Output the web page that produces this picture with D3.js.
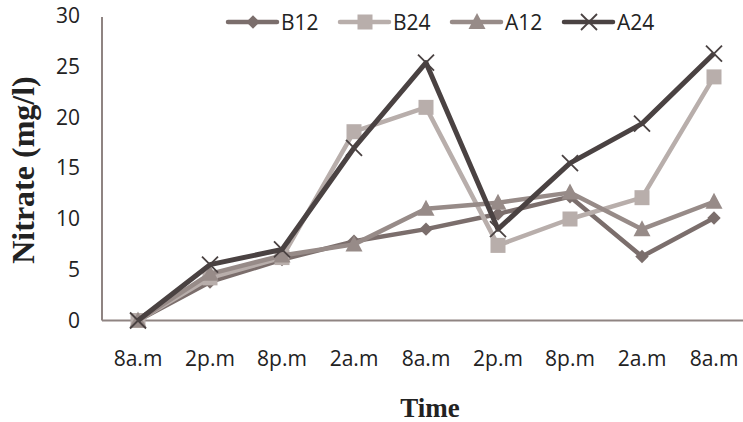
<!DOCTYPE html>
<html>
<head>
<meta charset="utf-8">
<script src="https://cdn.jsdelivr.net/npm/d3@7/dist/d3.min.js"></script>
<style>
  html, body { margin: 0; padding: 0; background: #fff; }
  svg { display: block; }
</style>
</head>
<body>
<svg id="chart" width="743" height="422"></svg>
<script>
// Sampling times along the x axis
const categories = ["8a.m", "2p.m", "8p.m", "2a.m", "8a.m", "2p.m", "8p.m", "2a.m", "8a.m"];

// Nitrate concentration (mg/l) per series
const B12 = [0, 3.8, 6.0, 7.8, 9.0, 10.5, 12.2, 6.3, 10.1];
const B24 = [0, 4.2, 6.2, 18.6, 21.0, 7.4, 10.0, 12.1, 24.0];
const A12 = [0, 4.6, 6.4, 7.5, 11.0, 11.6, 12.6, 9.0, 11.7];
const A24 = [0, 5.5, 7.0, 17.0, 25.4, 9.0, 15.5, 19.4, 26.3];

const yTicks = [0, 5, 10, 15, 20, 25, 30];

const series = [
  { name: "B12", values: B12, color: "#7b6e6c", marker: "diamond" },
  { name: "B24", values: B24, color: "#b8aeab", marker: "square" },
  { name: "A12", values: A12, color: "#978b88", marker: "triangle" },
  { name: "A24", values: A24, color: "#4a4242", marker: "cross" }
];

const svg = d3.select("#chart");
const axisColor = "#8f8482";
const textColor = "#222";
const labelFont = "'Open Sans', sans-serif";
const labelSize = 21;

const x = d3.scaleBand()
  .domain(d3.range(categories.length))
  .range([102, 750]);
const y = d3.scaleLinear().domain([0, 30]).range([320.5, 16]);
const cx = i => x(i) + x.bandwidth() / 2;

// Axes
const yAxis = d3.axisLeft(y).tickValues(yTicks).tickSize(0).tickPadding(22);
const gy = svg.append("g").attr("transform", "translate(102,0)").call(yAxis);
gy.select(".domain").attr("stroke", axisColor).attr("stroke-width", 2).attr("d", `M0,${y(30) + 1}V${y(0)}`);
gy.selectAll("text")
  .attr("font-family", labelFont)
  .attr("font-size", labelSize)
  .attr("fill", textColor);

const xAxis = d3.axisBottom(x).tickFormat(i => categories[i]).tickSize(0).tickPadding(31);
const gx = svg.append("g").attr("transform", `translate(0,${y(0)})`).call(xAxis);
gx.select(".domain").attr("stroke", axisColor).attr("stroke-width", 2).attr("d", `M102,0H743`);
gx.selectAll("text")
  .attr("font-family", labelFont)
  .attr("font-size", labelSize)
  .attr("fill", textColor);

// Axis titles
svg.append("text")
  .attr("transform", "translate(34,170) rotate(-90)")
  .attr("text-anchor", "middle")
  .attr("font-family", "'Liberation Serif', 'Times New Roman', serif")
  .attr("font-weight", "bold")
  .attr("font-size", 32)
  .attr("fill", textColor)
  .text("Nitrate (mg/l)");

svg.append("text")
  .attr("x", 430).attr("y", 417)
  .attr("text-anchor", "middle")
  .attr("font-family", "'Liberation Serif', 'Times New Roman', serif")
  .attr("font-weight", "bold")
  .attr("font-size", 27)
  .attr("fill", textColor)
  .text("Time");

// Marker drawing helper
function drawMarker(g, type, px, py, color) {
  if (type === "diamond") {
    g.append("path").attr("d", d3.symbol(d3.symbolDiamond2, 115)())
      .attr("transform", `translate(${px},${py})`).attr("fill", color);
  } else if (type === "square") {
    g.append("rect").attr("x", px - 7.5).attr("y", py - 7.5).attr("width", 15).attr("height", 15).attr("fill", color);
  } else if (type === "triangle") {
    g.append("path").attr("d", `M${px},${py - 9}L${px + 8.5},${py + 7}L${px - 8.5},${py + 7}Z`).attr("fill", color);
  } else if (type === "cross") {
    g.append("path").attr("d", `M${px - 8},${py - 8}L${px + 8},${py + 8}M${px + 8},${py - 8}L${px - 8},${py + 8}`)
      .attr("stroke", color).attr("stroke-width", 1.8).attr("fill", "none");
  }
}

const line = d3.line().x((d, i) => cx(i)).y(d => y(d));

series.forEach(s => {
  const g = svg.append("g");
  g.append("path").datum(s.values)
    .attr("d", line)
    .attr("fill", "none")
    .attr("stroke", s.color)
    .attr("stroke-width", s.marker === "cross" ? 5 : 4.5)
    .attr("stroke-linejoin", "round");
  s.values.forEach((v, i) => drawMarker(g, s.marker, cx(i), y(v), s.color));
});

// Legend
const legendX = [228, 340, 452, 564];
series.forEach((s, k) => {
  const g = svg.append("g");
  const lx = legendX[k], ly = 22;
  g.append("line").attr("x1", lx).attr("x2", lx + 49).attr("y1", ly).attr("y2", ly)
    .attr("stroke", s.color).attr("stroke-width", 4.5).attr("stroke-linecap", "round");
  drawMarker(g, s.marker, lx + 25, ly, s.color);
  g.append("text").attr("x", lx + 53).attr("y", ly + 7.5)
    .attr("font-family", labelFont)
    .attr("font-size", labelSize)
    .attr("fill", textColor)
    .text(s.name);
});
</script>
</body>
</html>
